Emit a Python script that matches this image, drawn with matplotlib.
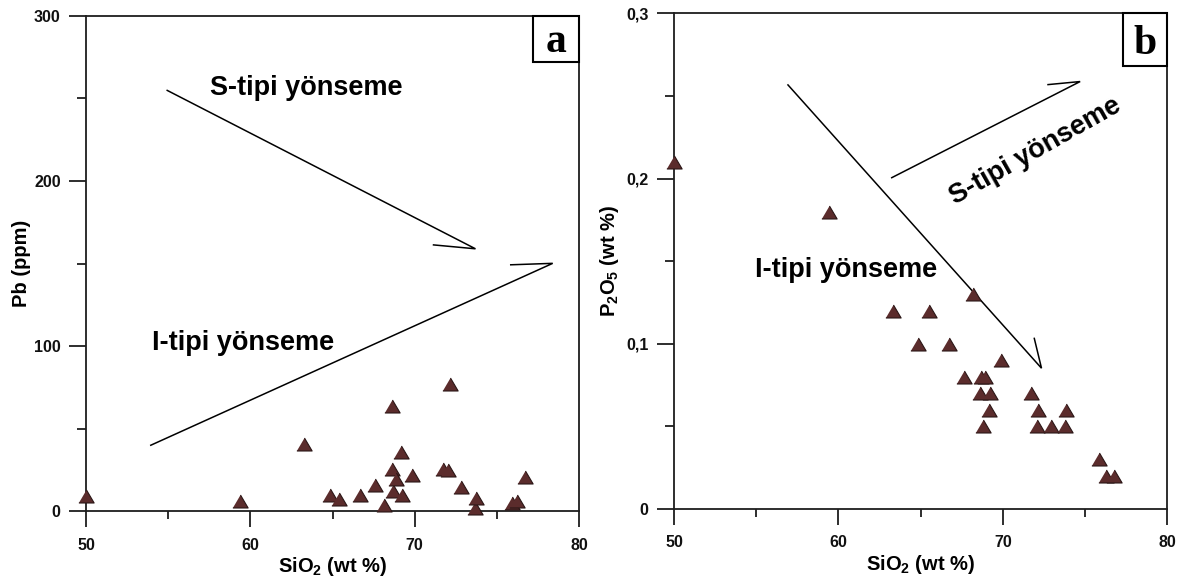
import matplotlib
matplotlib.use("Agg")
import matplotlib.pyplot as plt
from matplotlib.patches import Rectangle

plt.rcParams["font.family"] = ["Liberation Sans", "DejaVu Sans"]
plt.rcParams["mathtext.fontset"] = "custom"
plt.rcParams["mathtext.rm"] = "Liberation Sans:bold"
plt.rcParams["mathtext.bf"] = "Liberation Sans:bold"
plt.rcParams["mathtext.it"] = "Liberation Sans:bold"

# ---- data -----------------------------------------------------------------
sio2_a = [50.0, 59.4, 63.25, 64.85, 65.4, 66.7, 67.6, 68.15, 68.6, 68.6,
          68.7, 68.85, 69.15, 69.2, 69.85, 71.7, 72.05, 72.15, 72.8, 73.7,
          73.75, 75.9, 76.25, 76.7]
pb = [9.5, 6, 41, 10, 7.5, 10, 16, 4, 64, 25.5,
      12, 19.5, 36, 10, 22, 25.5, 25, 77, 14.5, 2,
      8, 5, 6.5, 20.5]

sio2_b = [50.0, 59.45, 63.3, 64.85, 65.5, 66.75, 67.65, 68.2, 68.6, 68.65,
          68.8, 68.9, 69.15, 69.2, 69.9, 71.7, 72.05, 72.15, 72.9, 73.75,
          73.85, 75.85, 76.25, 76.75]
p2o5 = [0.21, 0.18, 0.12, 0.10, 0.12, 0.10, 0.08, 0.13, 0.07, 0.08,
        0.05, 0.08, 0.06, 0.07, 0.09, 0.07, 0.05, 0.06, 0.05, 0.05,
        0.06, 0.03, 0.02, 0.02]

x_ticks = [50, 60, 70, 80]
x_minor = [55, 65, 75]
pb_ticks = [0, 100, 200, 300]
pb_minor = [50, 150, 250]
p2o5_ticks = [0, 0.1, 0.2, 0.3]
p2o5_tick_labels = ["0", "0,1", "0,2", "0,3"]
p2o5_minor = [0.05, 0.15, 0.25]

# trend arrows: start point, tip, end of the single barb
pb_s_trend = [(54.9, 255.0), (73.7, 158.9), (71.1, 161.3)]
pb_i_trend = [(53.9, 39.8), (78.4, 150.1), (75.8, 149.2)]
p2o5_i_trend = [(56.9, 0.257), (72.35, 0.0852), (71.9, 0.1037)]
p2o5_s_trend = [(63.2, 0.2003), (74.7, 0.2587), (72.7, 0.2568)]

trend_s = "S-tipi yönseme"
trend_i = "I-tipi yönseme"

# ---- style ----------------------------------------------------------------
tri = [(-1.0, -0.85), (1.0, -0.85), (0.0, 0.85)]
mk = dict(marker=tri, s=0, linestyle="none")
fill_c = "#5b2c2c"
edge_c = "#2a1616"
spine_c = "#1e1e1e"

fig = plt.figure(figsize=(11.85, 5.81), dpi=100)
ax_a = fig.add_axes([86 / 1185, 1 - 511.3 / 581, 493 / 1185, 495.6 / 581])
ax_b = fig.add_axes([674 / 1185, 1 - 509 / 581, 493.3 / 1185, 495.7 / 581])


def style_axes(ax, yticks, yminor, ylabels):
    for sp in ax.spines.values():
        sp.set_color(spine_c)
        sp.set_linewidth(1.3)
    ax.set_xlim(50, 80)
    ax.set_xticks(x_ticks)
    ax.set_xticks(x_minor, minor=True)
    ax.set_xticklabels([str(t) for t in x_ticks])
    ax.set_yticks(yticks)
    ax.set_yticks(yminor, minor=True)
    ax.set_yticklabels(ylabels)
    ax.tick_params(axis="x", which="major", direction="out", length=11.5,
                   width=1.3, color=spine_c, pad=7.5, labelsize=11.5)
    ax.tick_params(axis="x", which="minor", direction="out", length=6,
                   width=1.3, color=spine_c)
    ax.tick_params(axis="y", which="major", direction="out", length=12.2,
                   width=1.3, color=spine_c, pad=6, labelsize=11.5)
    ax.tick_params(axis="y", which="minor", direction="out", length=6.5,
                   width=1.3, color=spine_c)
    for lab in ax.get_xticklabels() + ax.get_yticklabels():
        lab.set_fontweight("bold")
        lab.set_color("#111111")


def half_arrow(ax, pts):
    start, tip, barb = pts
    ax.plot([start[0], tip[0], barb[0]], [start[1], tip[1], barb[1]],
            color="black", linewidth=1.1, solid_joinstyle="miter",
            solid_capstyle="butt")


def panel_tag(ax, letter, x0, w, h, ty):
    ax.add_patch(Rectangle((x0, 1 - h), w, h, transform=ax.transAxes,
                           facecolor="white", edgecolor="black",
                           linewidth=1.5, zorder=5, clip_on=False))
    ax.text(x0 + w / 2, ty, letter, transform=ax.transAxes, ha="center",
            va="baseline", fontsize=30, fontweight="bold",
            family=["Liberation Serif", "DejaVu Serif"], zorder=6)


# ---- panel a: Pb ----------------------------------------------------------
style_axes(ax_a, pb_ticks, pb_minor, [str(t) for t in pb_ticks])
ax_a.set_ylim(0, 300)
half_arrow(ax_a, pb_s_trend)
half_arrow(ax_a, pb_i_trend)
ax_a.plot(sio2_a, pb, marker=tri, markersize=11, linestyle="none",
          markerfacecolor=fill_c, markeredgecolor=edge_c,
          markeredgewidth=0.8, clip_on=False, zorder=4)
ax_a.text(57.55, 251.7, trend_s, fontsize=19.5, fontweight="bold",
          ha="left", va="baseline")
ax_a.text(54.0, 97.8, trend_i, fontsize=19.5, fontweight="bold",
          ha="left", va="baseline")
ax_a.set_xlabel(r"SiO$_2$ (wt %)", fontsize=14.5, fontweight="bold")
ax_a.xaxis.set_label_coords(0.5, -0.1225)
ax_a.xaxis.label.set_verticalalignment("baseline")
ax_a.set_ylabel("Pb (ppm)", fontsize=14.5, fontweight="bold")
ax_a.yaxis.set_label_coords(-0.1197, 0.5)
ax_a.yaxis.label.set_verticalalignment("baseline")
panel_tag(ax_a, "a", 0.906, 0.0933, 0.0928, 0.927)

# ---- panel b: P2O5 --------------------------------------------------------
style_axes(ax_b, p2o5_ticks, p2o5_minor, p2o5_tick_labels)
ax_b.set_ylim(0, 0.3)
half_arrow(ax_b, p2o5_i_trend)
half_arrow(ax_b, p2o5_s_trend)
ax_b.plot(sio2_b, p2o5, marker=tri, markersize=11, linestyle="none",
          markerfacecolor=fill_c, markeredgecolor=edge_c,
          markeredgewidth=0.8, clip_on=False, zorder=4)
ax_b.text(72.0, 0.2165, trend_s, fontsize=19.5, fontweight="bold",
          ha="center", va="center", rotation=29.5, rotation_mode="anchor")
ax_b.text(54.9, 0.1405, trend_i, fontsize=19.5, fontweight="bold",
          ha="left", va="baseline")
ax_b.set_xlabel(r"SiO$_2$ (wt %)", fontsize=14.5, fontweight="bold")
ax_b.xaxis.set_label_coords(0.5, -0.1225)
ax_b.xaxis.label.set_verticalalignment("baseline")
ax_b.set_ylabel(r"P$_2$O$_5$ (wt %)", fontsize=14.5, fontweight="bold")
ax_b.yaxis.set_label_coords(-0.1197, 0.5)
ax_b.yaxis.label.set_verticalalignment("baseline")
panel_tag(ax_b, "b", 0.911, 0.088, 0.1057, 0.918)

fig.savefig("out.png", dpi=100, facecolor="white")
